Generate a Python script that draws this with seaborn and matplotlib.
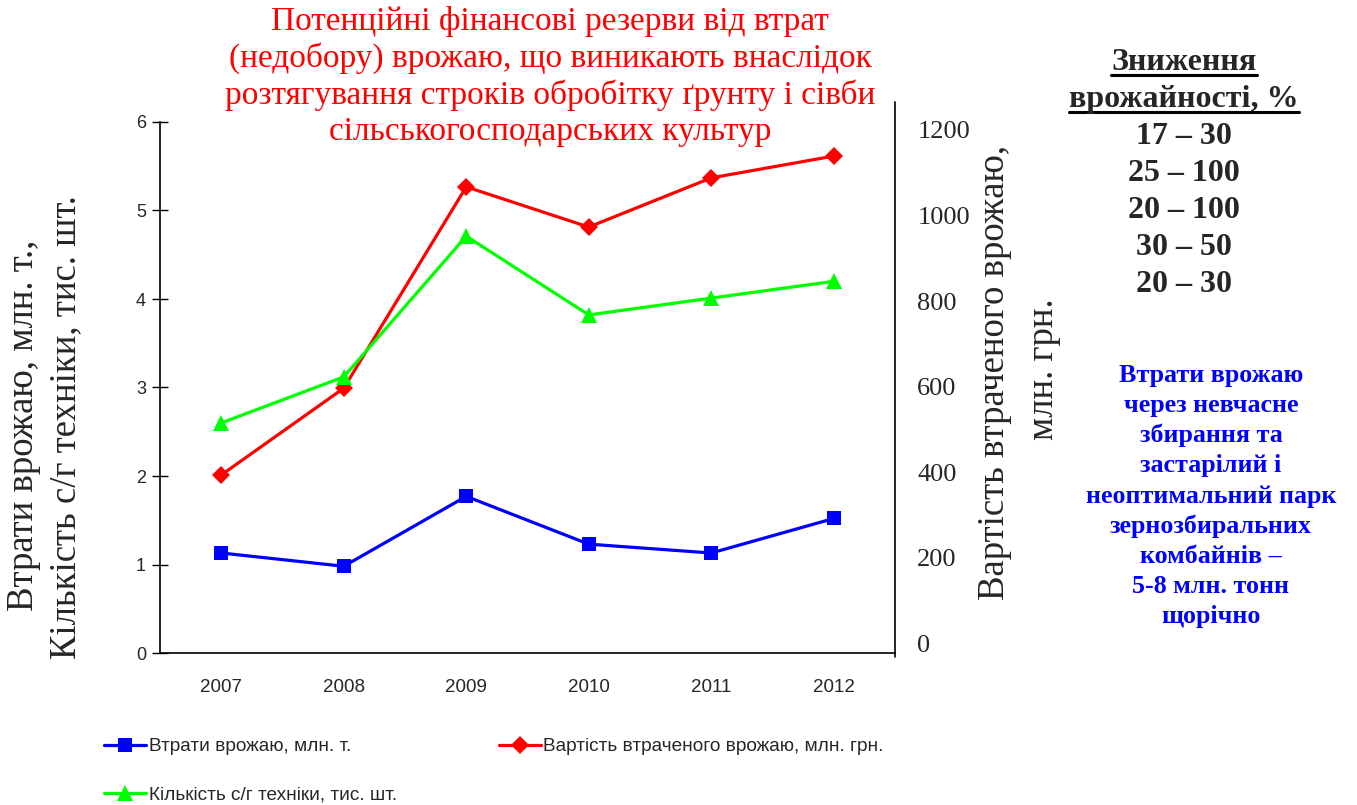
import numpy as np
import pandas as pd
import matplotlib
matplotlib.use("Agg")
import matplotlib.pyplot as plt
import seaborn as sns
from matplotlib.lines import Line2D

sns.set_style("white")
plt.rcParams["font.family"] = ["Liberation Sans", "DejaVu Sans"]

# ---------------- data ----------------
years = ["2007", "2008", "2009", "2010", "2011", "2012"]
crop_losses = [1.13, 0.98, 1.77, 1.23, 1.13, 1.52]          # млн. т (left axis)
machinery = [2.60, 3.12, 4.71, 3.82, 4.01, 4.20]            # тис. шт (left axis)
lost_value = [393, 596, 1067, 973, 1088, 1139]              # млн. грн (right axis)
left_ticks = [0, 1, 2, 3, 4, 5, 6]
right_ticks = [0, 200, 400, 600, 800, 1000, 1200]

label_losses = "Втрати врожаю, млн. т."
label_value = "Вартість втраченого врожаю, млн. грн."
label_mach = "Кількість с/г техніки, тис. шт."

title = ("Потенційні фінансові резерви від втрат\n"
         "(недобору) врожаю, що виникають внаслідок\n"
         "розтягування строків обробітку ґрунту і сівби\n"
         "сільськогосподарських культур")
header_lines = ["Зниження", "врожайності, %"]
ranges = ["17 – 30", "25 – 100", "20 – 100", "30 – 50", "20 – 30"]
blue_note = ("Втрати врожаю\nчерез невчасне\nзбирання та\nзастарілий і\n"
             "неоптимальний парк\nзернозбиральних\nкомбайнів –\n5-8 млн. тонн\nщорічно")

df = pd.DataFrame({"pos": np.arange(len(years)), "year": years,
                   "losses": crop_losses, "mach": machinery, "value": lost_value})

W, H = 1357, 805
fig = plt.figure(figsize=(W / 100, H / 100), dpi=100)
ax = fig.add_axes([160 / W, 1 - 653 / H, (895 - 160) / W, (653 - 122) / H])
ax2 = ax.twinx()
ax.set_zorder(ax2.get_zorder() + 1)
ax.patch.set_visible(False)

BLUE, RED, GREEN = "#0000FF", "#FF0000", "#00FF00"
lw = 2.3
sns.lineplot(data=df, x="pos", y="value", ax=ax2, color=RED, marker="D",
             markersize=9, markeredgewidth=0, linewidth=lw, legend=False)
sns.lineplot(data=df, x="pos", y="mach", ax=ax, color=GREEN, marker="^",
             markersize=12, markeredgewidth=0, linewidth=lw, legend=False)
sns.lineplot(data=df, x="pos", y="losses", ax=ax, color=BLUE, marker="s",
             markersize=9.5, markeredgewidth=0, linewidth=lw, legend=False)

# axes limits / ticks
n = len(years)
ax.set_xlim(-0.5, n - 0.5)
ax.set_ylim(0, 6)
ax.set_yticks(left_ticks)
ax.set_yticklabels([str(t) for t in left_ticks], fontsize=13)
ax.set_xticks(np.arange(-0.5, n, 1.0))
ax.set_xticklabels([""] * (n + 1))
ax.set_xticks(np.arange(n), minor=True)
ax.set_xticklabels(years, minor=True, fontsize=13.5)
ax.tick_params(axis="x", which="major", direction="inout", length=12, width=1, color="black")
ax.tick_params(axis="x", which="minor", length=0, pad=19)
ax.tick_params(axis="y", direction="inout", length=12, width=1, color="black", pad=4)
ax.set_xlabel("")
ax.set_ylabel("")
for s in ["top", "right"]:
    ax.spines[s].set_visible(False)
for s in ["left", "bottom"]:
    ax.spines[s].set_color("black")
    ax.spines[s].set_linewidth(1.2)

# right axis: 0 at y=643px, 1200 at y=130px
ppu = (643 - 130) / 1200.0
ax2.set_ylim(-(653 - 643) / ppu, 1200 + (130 - 122) / ppu)
ax2.set_yticks(right_ticks)
ax2.set_yticklabels([str(t) for t in right_ticks], fontsize=19, family="Liberation Serif")
ax2.tick_params(axis="y", length=0, pad=16)
ax2.set_ylabel("")
for s in ax2.spines.values():
    s.set_visible(False)
ax.plot([1, 1], [-0.008, 1.038], transform=ax.transAxes, clip_on=False,
        color="black", linewidth=1.2)

# axis titles
serif = "Liberation Serif"
fig.text(24 / W, 1 - 425 / H, "Втрати врожаю, млн. т.,", rotation=90, ha="center",
         va="center", fontsize=26.5, family=serif)
fig.text(66 / W, 1 - 427 / H, "Кількість с/г техніки, тис. шт.", rotation=90, ha="center",
         va="center", fontsize=26.5, family=serif)
fig.text(995 / W, 1 - 372 / H, "Вартість втраченого врожаю,", rotation=90, ha="center",
         va="center", fontsize=26.5, family=serif)
fig.text(1044 / W, 1 - 369 / H, "млн. грн.", rotation=90, ha="center",
         va="center", fontsize=26.5, family=serif)

# title
fig.text(550 / W, 1 - 6 / H, title, ha="center", va="top", color=RED,
         fontsize=24, family=serif, linespacing=1.22)

# right text block
hdr_texts = []
for i, t in enumerate(header_lines):
    hdr_texts.append(fig.text(1184 / W, 1 - (63 + 37 * i) / H, t, ha="center", va="center",
                              fontsize=23, fontweight="bold", family=serif))
for i, t in enumerate(ranges):
    fig.text(1184 / W, 1 - (137 + 36.8 * i) / H, t, ha="center", va="center",
             fontsize=23, fontweight="bold", family=serif)
fig.text(1211 / W, 1 - 496 / H, blue_note, ha="center", va="center", color=BLUE,
         fontsize=18.7, fontweight="bold", family=serif, linespacing=1.39)

# legend
h_loss = Line2D([], [], color=BLUE, marker="s", markersize=9.5, markeredgewidth=0, linewidth=lw)
h_val = Line2D([], [], color=RED, marker="D", markersize=9, markeredgewidth=0, linewidth=lw)
h_mach = Line2D([], [], color=GREEN, marker="^", markersize=12, markeredgewidth=0, linewidth=lw)
fig.legend([h_loss, h_mach, h_val], [label_losses, label_mach, label_value],
           loc="upper left", bbox_to_anchor=(104 / W, 1 - 738 / H), ncol=2,
           frameon=False, fontsize=13.7, handlelength=2.2, handletextpad=0.15,
           columnspacing=5.35, labelspacing=1.64, borderaxespad=0, borderpad=0)

# underline header
fig.canvas.draw()
r = fig.canvas.get_renderer()
for t in hdr_texts:
    bb = t.get_window_extent(renderer=r)
    yline = bb.y0 + 2
    fig.add_artist(Line2D([bb.x0 / W, bb.x1 / W], [yline / H, yline / H],
                          transform=fig.transFigure, color="black", linewidth=2.2))

fig.savefig("out.png", dpi=100)
